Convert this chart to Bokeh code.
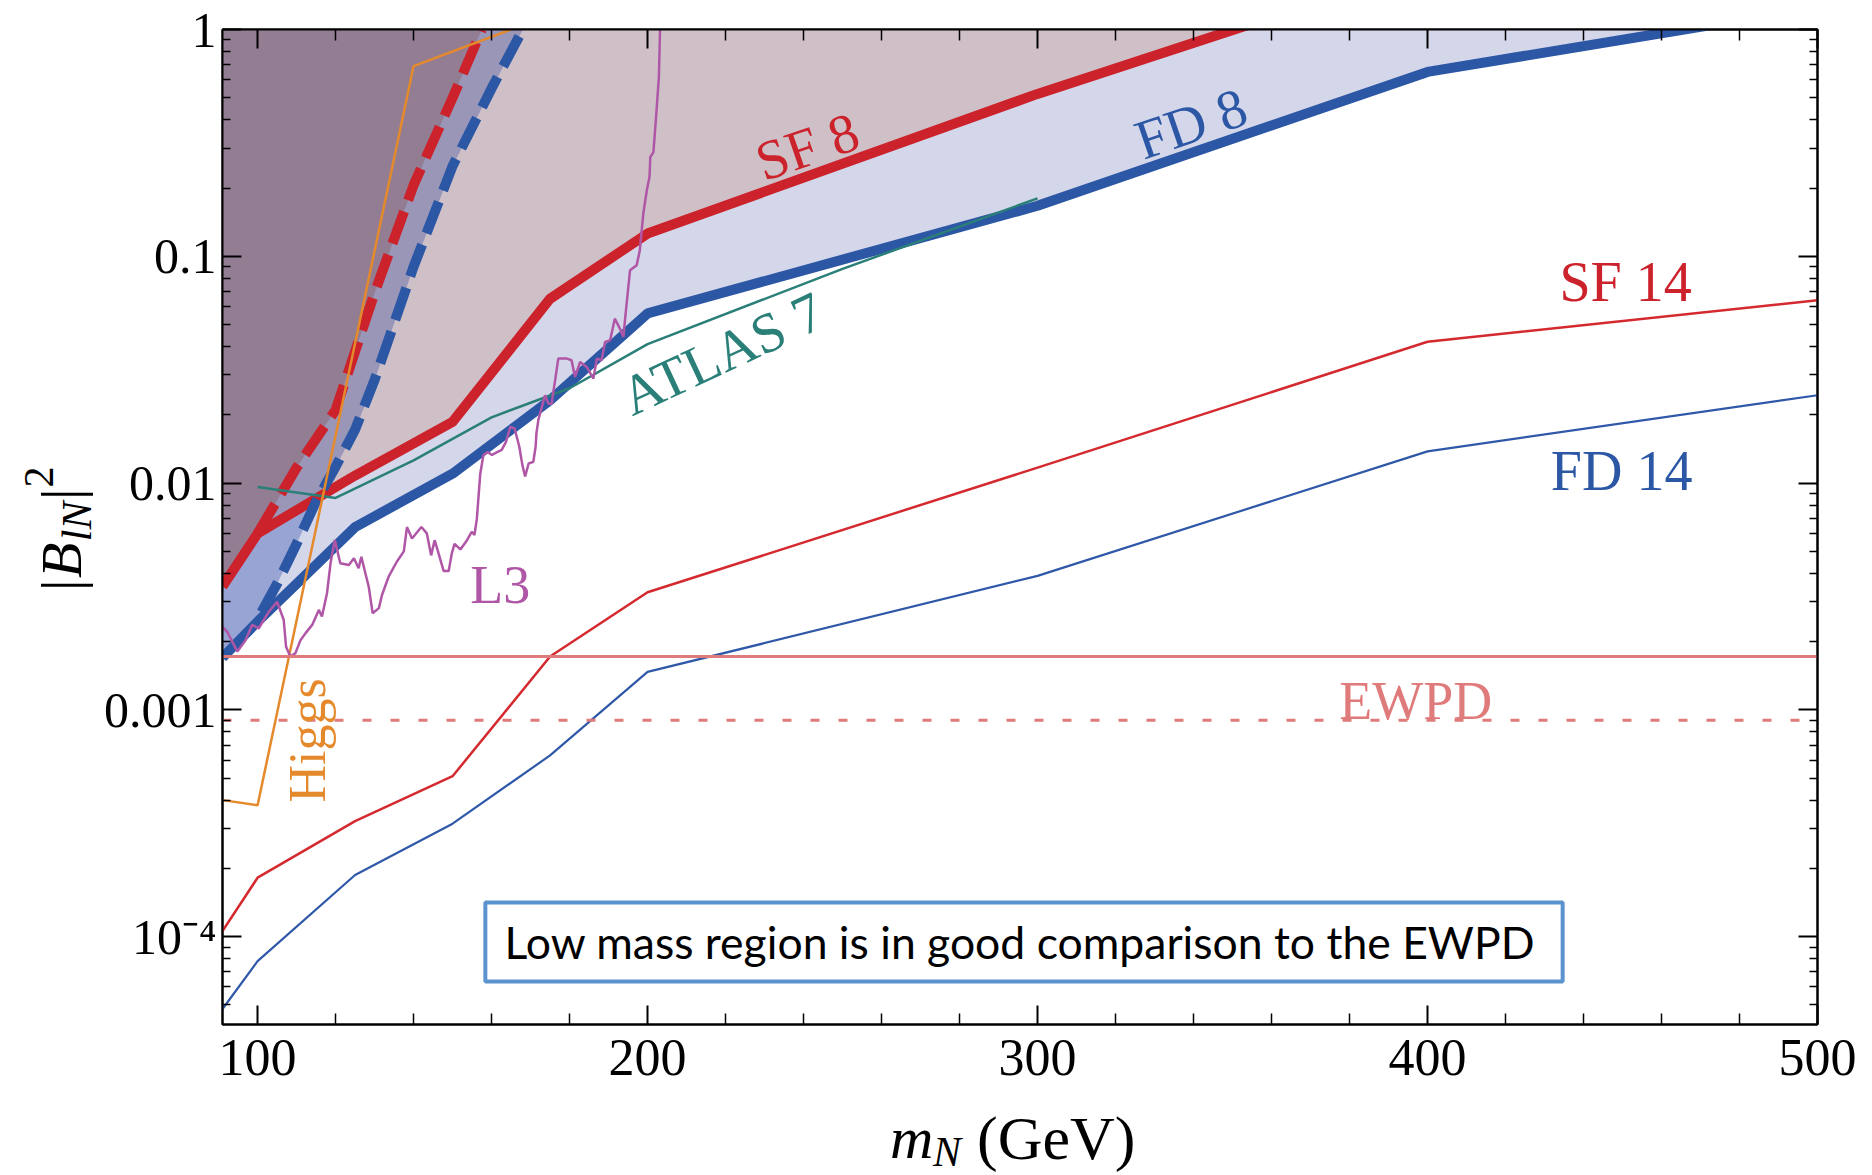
import numpy as np
from bokeh.plotting import figure
from bokeh.layouts import row, column
from bokeh.models import (Range1d, FixedTicker, LinearAxis, LogAxis, Label,
                          BoxAnnotation, Span)
from bokeh.embed import file_html
from bokeh.resources import INLINE

# ---------------- data ----------------
x_ticks = [100, 200, 300, 400, 500]
x_tick_labels = ["100", "200", "300", "400", "500"]
x_minor = [120, 140, 160, 180, 220, 240, 260, 280, 320, 340, 360, 380,
           420, 440, 460, 480]
y_ticks = [1e-4, 1e-3, 1e-2, 1e-1, 1.0]
y_tick_labels = ["10\u207b\u2074", "0.001", "0.01", "0.1", "1"]

# SF 8 / FD 8 (8 TeV, thick solid)
sf8_m = [91, 100, 125, 150, 175, 200, 300, 400]
sf8_v = [0.0035, 0.0060, 0.0108, 0.0186, 0.065, 0.126, 0.52, 1.9]
fd8_m = [91, 100, 125, 150, 175, 200, 300, 400, 500]
fd8_v = [0.0017, 0.00245, 0.0064, 0.011, 0.0232, 0.056, 0.167, 0.65, 1.25]

# thick dashed curves
sf8d_m = [100, 110, 120, 130, 140, 150, 157.5]
sf8d_v = [0.0060, 0.0117, 0.021, 0.069, 0.206, 0.50, 1.0]
fd8d_m = [101, 105, 110, 115, 120, 125, 130, 140, 150, 160, 168]
fd8d_v = [0.0027, 0.0036, 0.0054, 0.0083, 0.0118, 0.0172, 0.0285, 0.090,
          0.25, 0.55, 1.0]

# SF 14 / FD 14 (thin)
m14 = [91, 100, 125, 150, 175, 200, 300, 400, 500]
sf14_v = [1.06e-4, 1.82e-4, 3.23e-4, 5.1e-4, 1.72e-3, 3.3e-3, 1.17e-2,
          4.2e-2, 6.4e-2]
fd14_v = [4.8e-5, 7.8e-5, 1.87e-4, 3.15e-4, 6.3e-4, 1.47e-3, 3.9e-3,
          1.38e-2, 2.44e-2]

# EWPD
ewpd_solid = 1.72e-3
ewpd_dashed = 9.0e-4

# Higgs
higgs_m = [91, 100, 140, 165]
higgs_v = [4.0e-4, 3.8e-4, 0.69, 1.0]

# ATLAS 7
atlas_m = [100, 120, 140, 160, 180, 200, 250, 300]
atlas_v = [0.0096, 0.0086, 0.0126, 0.0195, 0.0262, 0.041, 0.088, 0.18]

# L3
l3_m = [90.5, 92.2, 94.8, 96.9, 98.6, 100.3, 102.9, 105.0, 106.7, 107.3,
        108.4, 109.7, 111.0, 112.3, 114.0, 115.7, 116.5, 117.8, 118.7, 119.8,
        121.2, 123.4, 124.7, 125.9, 126.6, 128.5, 129.5, 131.1, 131.9, 133.6,
        135.7, 137.5, 138.3, 139.6, 142.0, 143.4, 144.5, 145.4, 146.4, 147.7,
        149.0, 149.8, 150.5, 152.0, 153.7, 154.9, 155.6, 156.2, 157.1, 157.9,
        159.0, 160.1, 161.4, 162.6, 163.7, 164.8, 165.9, 167.1, 167.9, 168.6,
        169.5, 170.7, 171.3, 171.5, 172.0, 172.9, 173.7, 174.6, 175.4, 175.9,
        176.3, 177.1, 179.3, 180.5, 181.4, 182.7, 184.4, 186.1, 187.0, 188.2,
        189.1, 190.4, 191.6, 192.9, 193.8, 194.2, 195.5, 197.2, 198.0, 198.9,
        199.8, 200.5, 200.7, 201.5, 202.3, 202.9, 203.2]
l3_v = [0.00237, 0.00221, 0.00181, 0.00203, 0.00237, 0.00229, 0.00271, 0.0030,
        0.00249, 0.0019, 0.00172, 0.00178, 0.00203, 0.00218, 0.00237, 0.00276,
        0.00258, 0.00327, 0.00443, 0.00561, 0.00443, 0.00435, 0.00466, 0.00421,
        0.00473, 0.00349, 0.00267, 0.00281, 0.00321, 0.00387, 0.0045, 0.0050,
        0.0064, 0.0057, 0.0064, 0.0060, 0.0048, 0.0056, 0.0049, 0.0041,
        0.0041, 0.0049, 0.0054, 0.0051, 0.0056, 0.0061, 0.0059, 0.0069,
        0.0110, 0.0133, 0.0137, 0.0133, 0.0137, 0.0140, 0.0152, 0.0177,
        0.0174, 0.0145, 0.0120, 0.0107, 0.0122, 0.0124, 0.0145, 0.0166,
        0.0190, 0.0217, 0.0244, 0.0224, 0.0224, 0.0257, 0.0284, 0.0354,
        0.0354, 0.0348, 0.0294, 0.0342, 0.0325, 0.0289, 0.0354, 0.0348,
        0.0419, 0.0426, 0.0531, 0.0480, 0.0441, 0.0522, 0.0867, 0.0913,
        0.106, 0.154, 0.195, 0.224, 0.274, 0.288, 0.44, 0.617, 1.0]

box_text = "Low mass region is in good comparison to the EWPD"

# ---------------- layout geometry (page pixels) ----------------
XMIN, XMAX = 91.0, 500.0
YMIN, YMAX = 4.1e-5, 1.0
PAGE_W, PAGE_H = 1864, 1175
STRIP_W = 100           # left strip holding the y-axis title
MAIN_H = 1100           # main figure height; x-axis title strip below
PFL, PFR, PFT, PFB = 221, 1817, 29, 1024   # plot frame on the page
MID = 0.335             # em-box centre above the baseline, in em

def sx(px):
    return XMIN + (px - PFL) * (XMAX - XMIN) / (PFR - PFL)

def sy(py):
    lt, lb = np.log10(YMAX), np.log10(YMIN)
    return 10 ** (lt - (py - PFT) * (lt - lb) / (PFB - PFT))

SERIF = "Liberation Serif"
MAIN_W = PAGE_W - STRIP_W
BL, BR = PFL - STRIP_W, PAGE_W - PFR

p = figure(width=MAIN_W, height=MAIN_H, x_range=Range1d(XMIN, XMAX),
           y_range=Range1d(YMIN, YMAX), y_axis_type="log",
           output_backend="svg", toolbar_location=None,
           min_border_left=BL, min_border_right=BR,
           min_border_top=PFT, min_border_bottom=MAIN_H - PFB)
p.xgrid.visible = False
p.ygrid.visible = False
p.outline_line_color = "black"
p.outline_line_width = 2
p.background_fill_color = "white"
p.border_fill_color = "white"

xticker = FixedTicker(ticks=x_ticks, minor_ticks=x_minor)
y_minor = [k * 10.0 ** d for d in range(-5, 0) for k in range(2, 10)
           if YMIN <= k * 10.0 ** d <= YMAX]
yticker = FixedTicker(ticks=y_ticks, minor_ticks=y_minor)

def style_axis(ax, minor_len, size):
    ax.axis_line_color = "black"
    ax.axis_line_width = 2
    ax.major_tick_in = 19
    ax.major_tick_out = 0
    ax.minor_tick_in = minor_len
    ax.minor_tick_out = 0
    ax.major_tick_line_color = "black"
    ax.major_tick_line_width = 2
    ax.minor_tick_line_color = "black"
    ax.minor_tick_line_width = 1.5
    ax.major_label_text_font = SERIF
    ax.major_label_text_font_size = size
    ax.major_label_text_color = "black"

xa = p.xaxis[0]
xa.ticker = xticker
xa.major_label_overrides = dict(zip(x_ticks, x_tick_labels))
style_axis(xa, 11, "52px")
xa.major_label_standoff = 15

ya = p.yaxis[0]
ya.ticker = yticker
ya.major_label_overrides = dict(zip(y_ticks, y_tick_labels))
style_axis(ya, 8, "50px")
ya.major_label_standoff = 6

top = LinearAxis(ticker=xticker,
                 major_label_overrides={t: "" for t in x_ticks})
style_axis(top, 11, "0px")
top.major_label_standoff = 0
p.add_layout(top, "above")
right = LogAxis(ticker=yticker,
                major_label_overrides={t: "" for t in y_ticks})
style_axis(right, 8, "0px")
right.major_label_standoff = 0
p.add_layout(right, "right")

# ---------------- shaded regions ----------------
grid = np.linspace(XMIN, XMAX, 4000)
L_sf8 = np.interp(grid, sf8_m, np.log10(sf8_v))
L_fd8 = np.interp(grid, fd8_m, np.log10(fd8_v))
L_rd = np.interp(grid, sf8d_m, np.log10(sf8d_v), left=-10, right=10)
L_bd = np.interp(grid, fd8d_m, np.log10(fd8d_v), left=-10, right=10)

def region(lower, color):
    lo = 10 ** np.clip(lower, np.log10(YMIN) - 1, 0)
    p.varea(x=grid, y1=lo, y2=np.full_like(grid, YMAX), fill_color=color,
            fill_alpha=1.0)

region(L_fd8, "#D4D6EA")
region(L_sf8, "#CFC0C8")
region(np.maximum(L_fd8, L_bd), "#98A5D4")
region(np.maximum(L_sf8, L_bd), "#9996B8")
region(np.maximum(L_sf8, L_rd), "#937D93")

RED = "#CC222B"
BLUE = "#2C57A5"

# thick lines
p.line(sf8_m, sf8_v, line_color=RED, line_width=10)
p.line(fd8_m, fd8_v, line_color=BLUE, line_width=10)
p.line(sf8d_m, sf8d_v, line_color=RED, line_width=10, line_dash="34 12")
p.line(fd8d_m, fd8d_v, line_color=BLUE, line_width=10, line_dash="34 12")

# EWPD
EW = "#E07B7C"
p.add_layout(Span(location=ewpd_solid, dimension="width", line_color=EW,
                  line_width=3, level="glyph"))
p.add_layout(Span(location=ewpd_dashed, dimension="width", line_color=EW,
                  line_width=3, line_dash="9 19", level="glyph"))

# thin lines
p.line(m14, sf14_v, line_color="#D42A2F", line_width=2.5)
p.line(m14, fd14_v, line_color="#2F58A8", line_width=2.2)
TEAL = "#2A7F78"
p.line(atlas_m, atlas_v, line_color=TEAL, line_width=2.5)
ORANGE = "#E58A2C"
p.line(higgs_m, higgs_v, line_color=ORANGE, line_width=2.5)
PURPLE = "#B056A6"
p.line(l3_m, l3_v, line_color=PURPLE, line_width=2.5)

# ---------------- text labels in the plot ----------------
def lab(fig, text, x, y, color, size, angle=0.0, align="center",
        baseline="middle", style="normal", font=SERIF):
    fig.add_layout(Label(x=x, y=y, text=text, text_color=color,
                         text_font=font, text_font_size=f"{size}px",
                         text_font_style=style, angle=angle,
                         text_align=align, text_baseline=baseline))

def plab(text, px, py, color, size, **kw):
    lab(p, text, sx(px), sy(py), color, size, **kw)

plab("SF 8", 806, 146, RED, 56, angle=np.radians(19))
plab("FD 8", 1190, 123, BLUE, 56, angle=np.radians(19))
plab("SF 14", 1625, 281, RED, 56)
plab("FD 14", 1621, 470, BLUE, 56)
plab("ATLAS 7", 721, 353, TEAL, 56, angle=np.radians(25))
plab("L3", 499, 584, PURPLE, 54)
plab("Higgs", 306, 740, ORANGE, 52, angle=np.pi / 2)
plab("EWPD", 1415, 700, EW, 54)

# annotation box
p.add_layout(BoxAnnotation(left=sx(484), right=sx(1562), top=sy(902),
                           bottom=sy(981), fill_color="white", fill_alpha=1.0,
                           line_color="#5B93CF", line_alpha=1.0, line_width=4))
plab(box_text, 1019, 941, "black", 44.5, font="Lato")

# ---------------- axis titles in side strips ----------------
def strip(w, h, xr, yr, bl=0, br=0):
    f = figure(width=w, height=h, x_range=Range1d(*xr), y_range=Range1d(*yr),
               output_backend="svg", toolbar_location=None, title=None,
               x_axis_location=None, y_axis_location=None,
               min_border_left=bl, min_border_right=br,
               min_border_top=0, min_border_bottom=0)
    f.xgrid.visible = False
    f.ygrid.visible = False
    f.outline_line_color = None
    f.background_fill_color = "white"
    f.border_fill_color = "white"
    return f

# y title strip: page x 0..100, y 0..1175 (strip y = PAGE_H - page y).
# Rotated pieces, anchored at their upper end, centred on their em box.
fy = strip(STRIP_W, PAGE_H, (0, STRIP_W), (0, PAGE_H))
A = np.pi / 2
kw = dict(angle=A, align="right", baseline="middle")
lab(fy, "|", 80 - MID * 58, PAGE_H - 579, "black", 58, **kw)
lab(fy, "B", 80 - MID * 58, PAGE_H - 542, "black", 58, style="italic", **kw)
lab(fy, "lN", 91 - MID * 42, PAGE_H - 501, "black", 42, style="italic", **kw)
lab(fy, "|", 80 - MID * 58, PAGE_H - 488, "black", 58, **kw)
lab(fy, "2", 53 - MID * 42, PAGE_H - 466, "black", 42, **kw)

# x title strip below the main figure; its frame lines up with the main
# frame, so x uses the data scale and y counts pixels up from the page bottom
SH = PAGE_H - MAIN_H
fx = strip(MAIN_W, SH, (XMIN, XMAX), (0, SH), bl=BL, br=BR)
kx = dict(align="left", baseline="middle")
lab(fx, "m", sx(889), PAGE_H - (1158 - MID * 60), "black", 60,
    style="italic", **kx)
lab(fx, "N", sx(932), PAGE_H - (1166 - MID * 42), "black", 42,
    style="italic", **kx)
lab(fx, "(GeV)", sx(976), PAGE_H - (1158 - MID * 62), "black", 62, **kx)

layout = row(fy, column(p, fx))
open("out.html", "w").write(file_html(layout, INLINE))
